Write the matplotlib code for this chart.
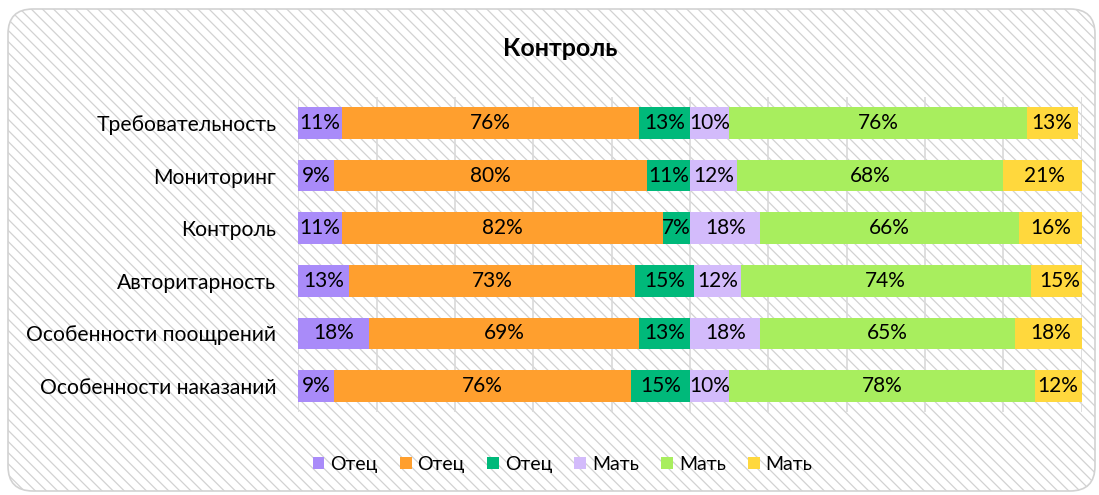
import matplotlib
matplotlib.use("Agg")
import matplotlib.pyplot as plt
from matplotlib.patches import FancyBboxPatch, Patch
import numpy as np

plt.rcParams['font.family'] = ['Lato', 'DejaVu Sans']

categories = ["Требовательность", "Мониторинг", "Контроль", "Авторитарность",
              "Особенности поощрений", "Особенности наказаний"]
father_1 = [11, 9, 11, 13, 18, 9]
father_2 = [76, 80, 82, 73, 69, 76]
father_3 = [13, 11, 7, 15, 13, 15]
mother_1 = [10, 12, 18, 12, 18, 10]
mother_2 = [76, 68, 66, 74, 65, 78]
mother_3 = [13, 21, 16, 15, 18, 12]
series_names = ["Отец", "Отец", "Отец", "Мать", "Мать", "Мать"]
colors = ["#a98bf9", "#ff9f2e", "#00b97a", "#d3bbfb", "#a8ee5e", "#ffd83d"]
title = "Контроль"

series = [father_1, father_2, father_3, mother_1, mother_2, mother_3]

fig = plt.figure(figsize=(10.99, 4.95), dpi=100)
plt.rcParams['hatch.linewidth'] = 0.9
bg = FancyBboxPatch((0.08, 0.04), 10.87, 4.82,
                    boxstyle="round,pad=0,rounding_size=0.25",
                    transform=fig.dpi_scale_trans, facecolor="white",
                    edgecolor="#d2d2d2", hatch="\\\\\\", linewidth=1.2, zorder=-10)
fig.patches.append(bg)

ax = fig.add_axes([0.2716, 0.167, 0.7125, 0.6376])
ax.set_facecolor("none")

y = np.arange(len(categories))
left = np.zeros(len(categories))
for vals, col, name in zip(series, colors, series_names):
    vals = np.array(vals, dtype=float)
    ax.barh(y, vals, left=left, height=0.6, color=col, label=name, zorder=3)
    for yi, l, v in zip(y, left, vals):
        ax.text(l + v / 2, yi, f"{int(v)}%", ha="center", va="center",
                fontsize=15, color="black", zorder=4)
    left = left + vals

ax.set_xlim(0, 200)
ax.set_ylim(len(categories) - 0.5, -0.5)
ax.set_xticks(np.arange(0, 201, 20))
ax.set_xticklabels([])
ax.tick_params(axis="x", length=0)
ax.tick_params(axis="y", length=0, pad=16, labelsize=15.2)
ax.set_yticks(y)
ax.set_yticklabels(categories)
ax.grid(axis="x", color="#d9d9d9", linewidth=1.2, zorder=0)
for s in ax.spines.values():
    s.set_visible(False)

fig.text(0.51, 0.903, title, ha="center", va="center", fontsize=18, fontweight="bold")

handles = [Patch(facecolor=c, label=n) for c, n in zip(colors, series_names)]
fig.legend(handles=handles, loc="center", bbox_to_anchor=(0.512, 0.062), ncol=6,
           frameon=False, fontsize=14, handlelength=0.6, handleheight=0.6,
           handletextpad=0.3, columnspacing=1.15)

fig.savefig("out.png", dpi=100)
